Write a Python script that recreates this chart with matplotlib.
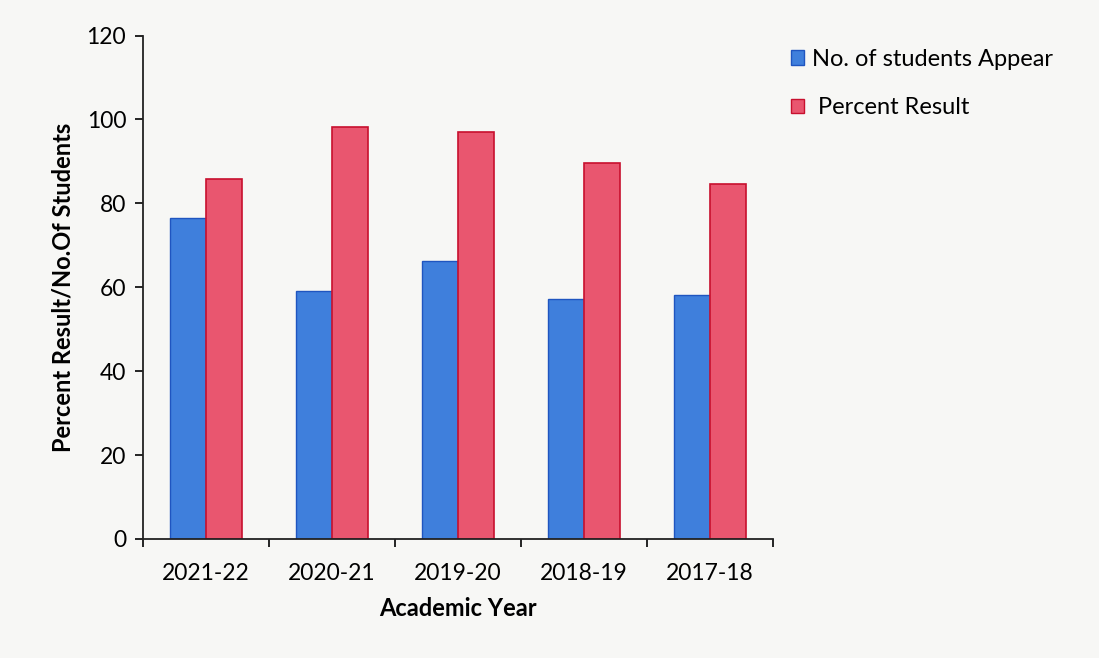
import matplotlib
matplotlib.use("Agg")
import matplotlib.pyplot as plt
import numpy as np
from matplotlib.patches import Patch

years = ["2021-22", "2020-21", "2019-20", "2018-19", "2017-18"]
students = [76.6, 59.0, 66.2, 57.1, 58.1]
percent = [85.7, 98.2, 96.9, 89.6, 84.6]
yticks = [0, 20, 40, 60, 80, 100, 120]

plt.rcParams['font.family'] = ['Lato', 'DejaVu Sans']

fig = plt.figure(figsize=(10.99, 6.58), dpi=100)
fig.patch.set_facecolor('#f7f7f5')
ax = fig.add_axes([0.130, 0.181, 0.573, 0.765])
ax.set_facecolor('#f7f7f5')

x = np.arange(len(years))
w = 0.286
ax.bar(x - w/2, students, w, color='#3f7fdc', edgecolor='#1f55c0', linewidth=1.0)
ax.bar(x + w/2, percent, w, color='#e9566f', edgecolor='#c8102e', linewidth=1.2)

ax.set_xlim(-0.5, len(years) - 0.5)
ax.set_ylim(0, 120)
ax.set_yticks(yticks)
ax.set_yticklabels([str(v) for v in yticks], fontsize=16.5)
ax.set_xticks(x)
ax.set_xticklabels(years, fontsize=16.5)
ax.tick_params(axis='x', length=0, pad=17)
ax.set_xticks(np.arange(-0.5, len(years)), minor=True)
ax.tick_params(axis='x', which='minor', length=6, direction='out', width=1.2)
ax.tick_params(axis='y', length=6, direction='out', width=1.2, pad=6)

for s in ['top', 'right']:
    ax.spines[s].set_visible(False)
for s in ['left', 'bottom']:
    ax.spines[s].set_color('#222222')
    ax.spines[s].set_linewidth(1.3)

ax.set_xlabel("Academic Year", fontsize=17, fontweight='bold', labelpad=10)
ax.set_ylabel("Percent Result/No.Of Students", fontsize=17, fontweight='bold', labelpad=9)

handles = [Patch(facecolor='#3f7fdc', edgecolor='#1f55c0'),
           Patch(facecolor='#e9566f', edgecolor='#c8102e')]
fig.legend(handles, ["No. of students Appear", " Percent Result"],
           loc='upper left', bbox_to_anchor=(0.700, 0.958), frameon=False,
           fontsize=17, handlelength=0.55, handleheight=0.55, handletextpad=0.35,
           labelspacing=1.15)

fig.savefig("out.png", dpi=100, facecolor=fig.get_facecolor())
